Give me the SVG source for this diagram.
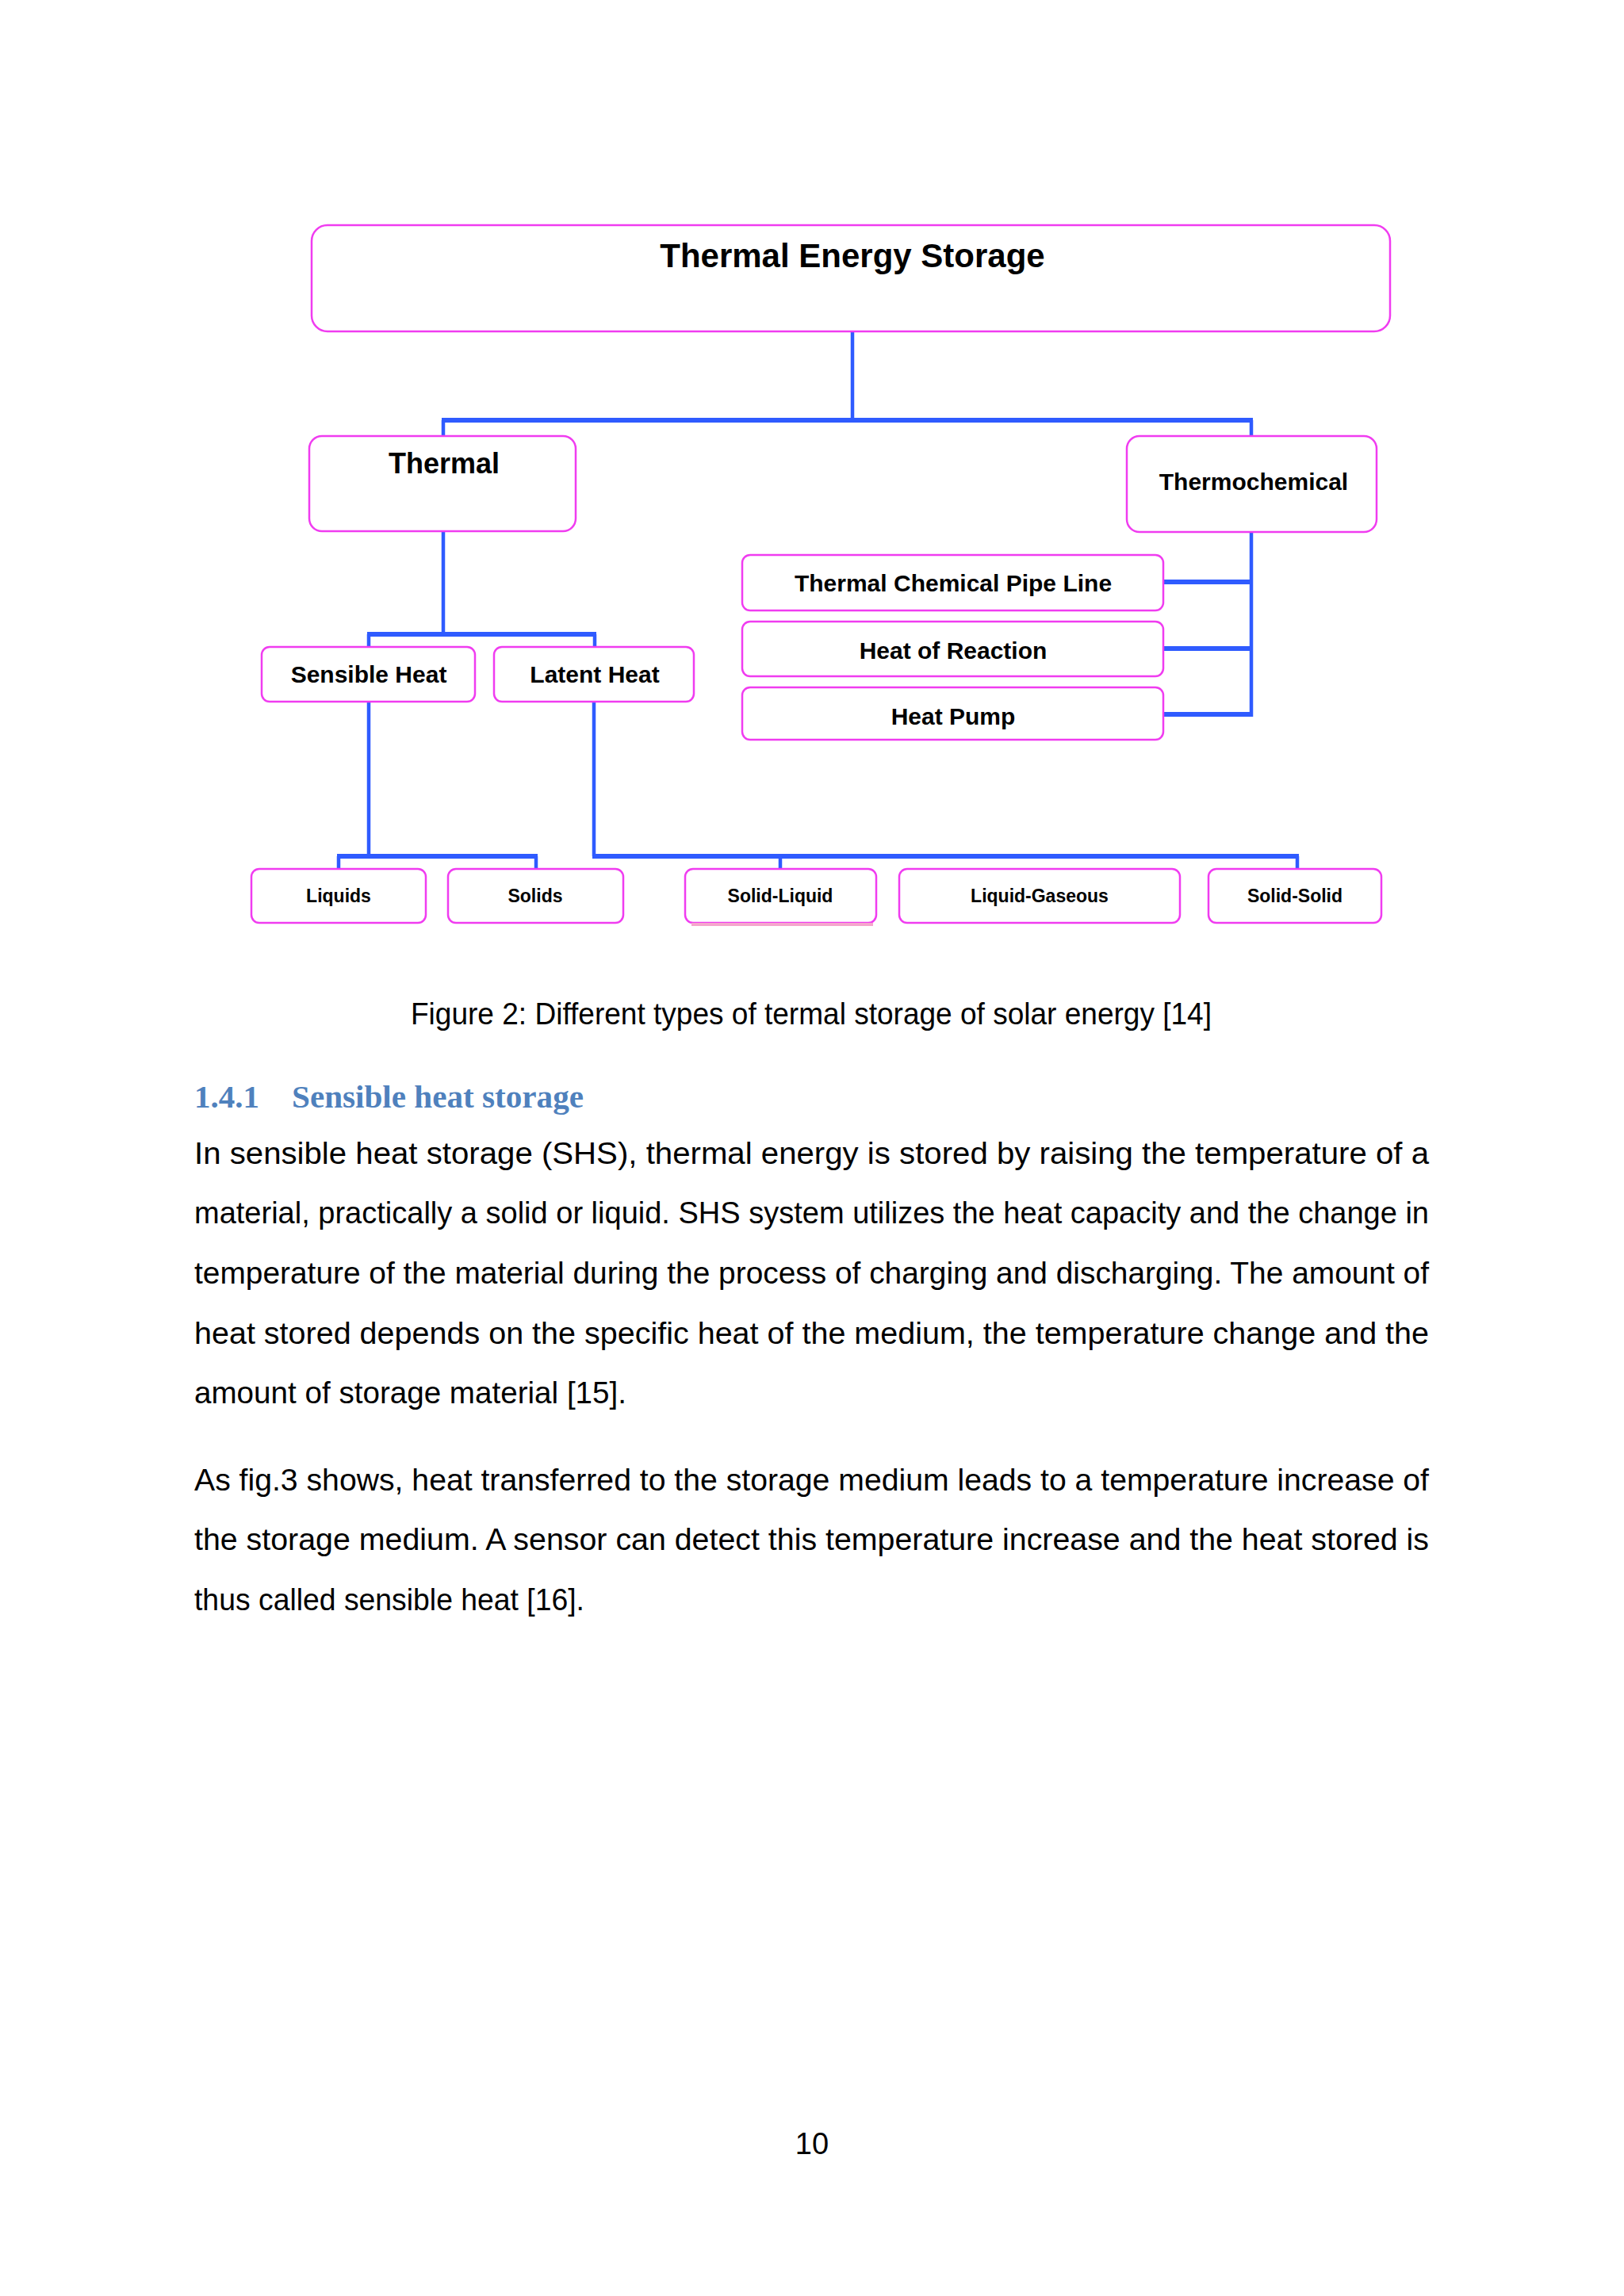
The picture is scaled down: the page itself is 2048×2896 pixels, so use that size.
<svg xmlns="http://www.w3.org/2000/svg" width="2048" height="2896" viewBox="0 0 2048 2896">
<style>
.box{fill:#ffffff;stroke:#f03cf0;stroke-width:2.5}
.lbl{font-family:"Liberation Sans",Arial,sans-serif;font-weight:bold;fill:#000;text-anchor:middle}
.v{stroke:#2f5bff;stroke-width:4.5;fill:none}
.h{stroke:#2f5bff;stroke-width:6;fill:none}
.body{font-family:"Liberation Sans",Arial,sans-serif;font-size:38px;fill:#000}
.head{font-family:"Liberation Serif","Times New Roman",serif;font-weight:bold;font-size:41px;fill:#4f81bd}
</style>
<rect width="2048" height="2896" fill="#ffffff"/>
<g id="connectors">
<line class="v" x1="1075" y1="418" x2="1075" y2="530"/>
<line class="h" x1="557" y1="530" x2="1580" y2="530"/>
<line class="v" x1="559" y1="530" x2="559" y2="550"/>
<line class="v" x1="1578" y1="530" x2="1578" y2="550"/>
<line class="v" x1="559" y1="670" x2="559" y2="800"/>
<line class="h" x1="463" y1="800" x2="752" y2="800"/>
<line class="v" x1="465" y1="800" x2="465" y2="815"/>
<line class="v" x1="750" y1="800" x2="750" y2="815"/>
<line class="v" x1="1578" y1="671" x2="1578" y2="904"/>
<line class="h" x1="1467" y1="734" x2="1580" y2="734"/>
<line class="h" x1="1467" y1="818" x2="1580" y2="818"/>
<line class="h" x1="1467" y1="901" x2="1580" y2="901"/>
<line class="v" x1="465" y1="885" x2="465" y2="1080"/>
<line class="h" x1="425" y1="1080" x2="678" y2="1080"/>
<line class="v" x1="427" y1="1080" x2="427" y2="1096"/>
<line class="v" x1="676" y1="1080" x2="676" y2="1096"/>
<line class="v" x1="749" y1="885" x2="749" y2="1080"/>
<line class="h" x1="747" y1="1080" x2="1638" y2="1080"/>
<line class="v" x1="984" y1="1080" x2="984" y2="1096"/>
<line class="v" x1="1636" y1="1080" x2="1636" y2="1096"/>
</g>
<g id="node-tes"><rect class="box" x="393" y="284" width="1360" height="134" rx="20"/><text class="lbl" x="1075" y="337" font-size="42">Thermal Energy Storage</text></g>
<g id="node-thermal"><rect class="box" x="390" y="550" width="336" height="120" rx="16"/><text class="lbl" x="560" y="597" font-size="36">Thermal</text></g>
<g id="node-thermochemical"><rect class="box" x="1421" y="550" width="315" height="121" rx="16"/><text class="lbl" x="1581" y="618" font-size="30">Thermochemical</text></g>
<g id="node-sensible"><rect class="box" x="330" y="816" width="269" height="69" rx="10"/><text class="lbl" x="465" y="861" font-size="30">Sensible Heat</text></g>
<g id="node-latent"><rect class="box" x="623" y="816" width="252" height="69" rx="10"/><text class="lbl" x="750" y="861" font-size="30">Latent Heat</text></g>
<g id="node-pipeline"><rect class="box" x="936" y="700" width="531" height="70" rx="10"/><text class="lbl" x="1202" y="746" font-size="30">Thermal Chemical Pipe Line</text></g>
<g id="node-reaction"><rect class="box" x="936" y="784" width="531" height="69" rx="10"/><text class="lbl" x="1202" y="831" font-size="30">Heat of Reaction</text></g>
<g id="node-pump"><rect class="box" x="936" y="867" width="531" height="66" rx="10"/><text class="lbl" x="1202" y="914" font-size="30">Heat Pump</text></g>
<g id="node-liquids"><rect class="box" x="317" y="1096" width="220" height="68" rx="10"/><text class="lbl" x="427" y="1138" font-size="23">Liquids</text></g>
<g id="node-solids"><rect class="box" x="565" y="1096" width="221" height="68" rx="10"/><text class="lbl" x="675" y="1138" font-size="23">Solids</text></g>
<g id="node-solid-liquid"><rect class="box" x="864" y="1096" width="241" height="68" rx="10"/><line x1="872" y1="1166" x2="1101" y2="1166" stroke="#f5a6cc" stroke-width="4"/><text class="lbl" x="984" y="1138" font-size="23">Solid-Liquid</text></g>
<g id="node-liquid-gaseous"><rect class="box" x="1134" y="1096" width="354" height="68" rx="10"/><text class="lbl" x="1311" y="1138" font-size="23">Liquid-Gaseous</text></g>
<g id="node-solid-solid"><rect class="box" x="1524" y="1096" width="218" height="68" rx="10"/><text class="lbl" x="1633" y="1138" font-size="23">Solid-Solid</text></g>
<g id="text">
<text class="body" x="518" y="1292" textLength="1010" lengthAdjust="spacingAndGlyphs">Figure 2: Different types of termal storage of solar energy [14]</text>
<text class="head" x="245" y="1397" textLength="82" lengthAdjust="spacingAndGlyphs">1.4.1</text>
<text class="head" x="368" y="1397" textLength="368" lengthAdjust="spacingAndGlyphs">Sensible heat storage</text>
<text class="body" x="245" y="1468" textLength="1557" lengthAdjust="spacingAndGlyphs">In sensible heat storage (SHS), thermal energy is stored by raising the temperature of a</text>
<text class="body" x="245" y="1543" textLength="1557" lengthAdjust="spacingAndGlyphs">material, practically a solid or liquid. SHS system utilizes the heat capacity and the change in</text>
<text class="body" x="245" y="1619" textLength="1557" lengthAdjust="spacingAndGlyphs">temperature of the material during the process of charging and discharging. The amount of</text>
<text class="body" x="245" y="1695" textLength="1557" lengthAdjust="spacingAndGlyphs">heat stored depends on the specific heat of the medium, the temperature change and the</text>
<text class="body" x="245" y="1770" textLength="545" lengthAdjust="spacingAndGlyphs">amount of storage material [15].</text>
<text class="body" x="245" y="1880" textLength="1557" lengthAdjust="spacingAndGlyphs">As fig.3 shows, heat transferred to the storage medium leads to a temperature increase of</text>
<text class="body" x="245" y="1955" textLength="1557" lengthAdjust="spacingAndGlyphs">the storage medium. A sensor can detect this temperature increase and the heat stored is</text>
<text class="body" x="245" y="2031" textLength="492" lengthAdjust="spacingAndGlyphs">thus called sensible heat [16].</text>
<text class="body" x="1024" y="2717" text-anchor="middle" font-size="36">10</text>
</g>
</svg>
